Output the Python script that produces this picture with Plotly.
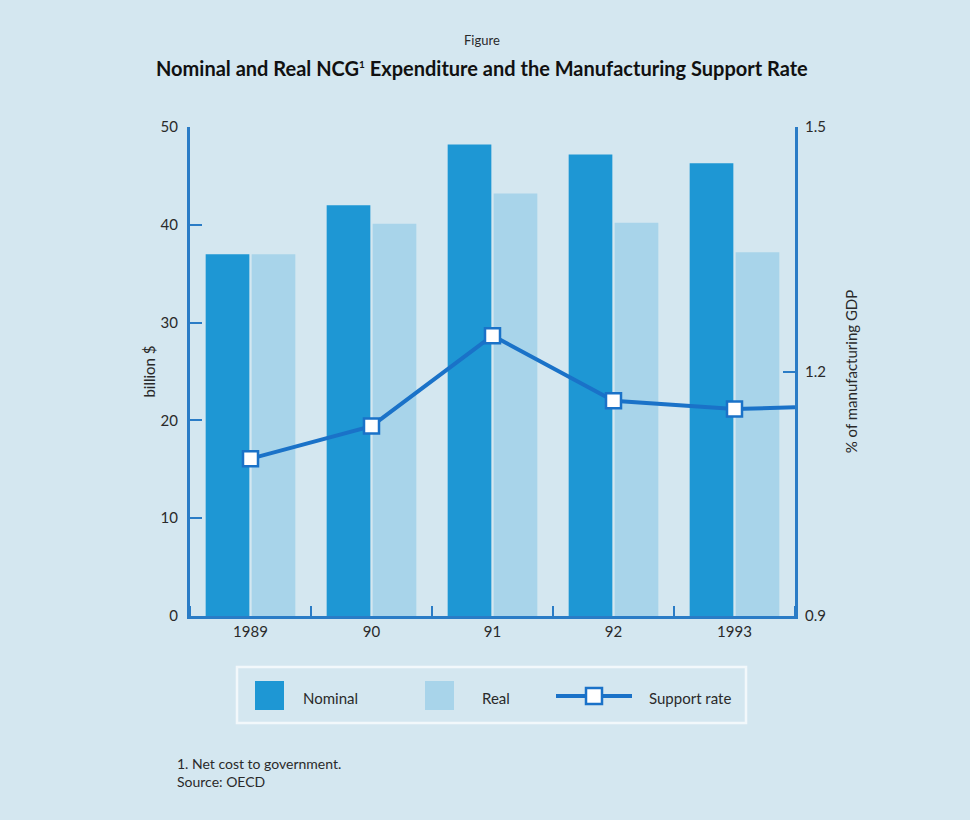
import plotly.graph_objects as go

years = ["1989", "90", "91", "92", "1993"]
nominal = [37, 42, 48.2, 47.2, 46.3]
real = [37, 40.1, 43.2, 40.2, 37.2]
support_rate = [1.093, 1.133, 1.244, 1.164, 1.154]
support_rate_end = 1.156  # line continues to right axis

left_ticks = [0, 10, 20, 30, 40, 50]
right_ticks = [0.9, 1.2, 1.5]

BG = "#d4e7f0"
NOM = "#1e97d4"
REAL = "#a8d4ea"
LINE = "#1a72c8"
AX = "#2a7cc6"
TXT = "#2a2a2a"
FONT = "Lato"

W, H = 970, 820
L, R, T, B = 190, 795, 127, 616

x_idx = list(range(len(years)))

fig = go.Figure()
fig.add_trace(go.Bar(x=x_idx, y=nominal, name="Nominal", marker=dict(color=NOM, line_width=0)))
fig.add_trace(go.Bar(x=x_idx, y=real, name="Real", marker=dict(color=REAL, line_width=0)))
fig.add_trace(go.Scatter(x=[x_idx[-1], x_idx[-1] + 0.5], y=[support_rate[-1], support_rate_end],
                         yaxis="y2", mode="lines", line=dict(color=LINE, width=4), showlegend=False))
fig.add_trace(go.Scatter(x=x_idx, y=support_rate, yaxis="y2", mode="lines+markers", name="Support rate",
                         line=dict(color=LINE, width=4),
                         marker=dict(symbol="square", size=15, color="white", line=dict(color=LINE, width=2.5))))

fig.update_layout(
    width=W, height=H,
    margin=dict(l=L, r=W - R, t=T, b=H - B),
    paper_bgcolor=BG, plot_bgcolor=BG,
    showlegend=False,
    barmode="group", bargap=0.24, bargroupgap=0.05,
    font=dict(family=FONT, color=TXT, size=15),
    xaxis=dict(range=[-0.5, 4.5], tickvals=x_idx, ticktext=years, ticks="", showgrid=False,
               showline=True, linecolor=AX, linewidth=3, zeroline=False, tickfont=dict(size=15),
               minor=dict(ticks="inside", tick0=0.5, dtick=1, ticklen=10, tickcolor=AX, tickwidth=1.5,
                          showgrid=False)),
    yaxis=dict(range=[0, 50], tickvals=left_ticks, ticks="inside", ticklen=12, tickcolor=AX, tickwidth=1.5,
               showgrid=False, showline=True, linecolor=AX, linewidth=3, zeroline=False,
               ticklabelstandoff=6,
               title=dict(text="billion $", font=dict(size=15), standoff=2), tickfont=dict(size=15)),
    yaxis2=dict(range=[0.9, 1.5], tickvals=right_ticks, tickformat=".1f", overlaying="y", side="right",
                ticks="inside", ticklen=12, tickcolor=AX, tickwidth=1.5, showgrid=False, showline=True,
                linecolor=AX, linewidth=3, zeroline=False, ticklabelstandoff=4,
                title=dict(text="% of manufacturing GDP", font=dict(size=15), standoff=22),
                tickfont=dict(size=15)),
)

def px_x(p):
    return (p - L) / (R - L)

def px_y(p):
    return (B - p) / (B - T)

shapes = []
ann = []
# titles
ann.append(dict(text="Figure", x=px_x(482), y=px_y(40), xref="paper", yref="paper", showarrow=False,
                yanchor="middle", font=dict(size=13, color=TXT)))
ann.append(dict(text="Nominal and Real NCG<sup><span style='font-size:10px'>1</span></sup> Expenditure and the Manufacturing Support Rate",
                x=px_x(482), y=px_y(68), xref="paper", yref="paper", showarrow=False, yanchor="middle",
                font=dict(size=20, color="#111", family=FONT, weight="bold")))
# legend box
shapes.append(dict(type="rect", xref="paper", yref="paper", x0=px_x(237), x1=px_x(746), y0=px_y(667), y1=px_y(723),
                   line=dict(color="#f2f8fb", width=2.5), fillcolor="rgba(0,0,0,0)"))
shapes.append(dict(type="rect", xref="paper", yref="paper", x0=px_x(255), x1=px_x(284), y0=px_y(681), y1=px_y(710),
                   line=dict(width=0), fillcolor=NOM))
shapes.append(dict(type="rect", xref="paper", yref="paper", x0=px_x(425), x1=px_x(454), y0=px_y(681), y1=px_y(710),
                   line=dict(width=0), fillcolor=REAL))
shapes.append(dict(type="line", xref="paper", yref="paper", x0=px_x(556), x1=px_x(632), y0=px_y(696), y1=px_y(696),
                   line=dict(color=LINE, width=4)))
shapes.append(dict(type="rect", xref="paper", yref="paper", x0=px_x(586), x1=px_x(602), y0=px_y(688), y1=px_y(704),
                   line=dict(color=LINE, width=2.5), fillcolor="white"))
for label, px in [("Nominal", 301), ("Real", 480), ("Support rate", 647)]:
    ann.append(dict(text=label, x=px_x(px), y=px_y(698), xref="paper", yref="paper", showarrow=False,
                    xanchor="left", yanchor="middle", font=dict(size=15, color=TXT)))
ann.append(dict(text="1. Net cost to government.<br>Source: OECD", x=px_x(175), y=px_y(753), xref="paper",
                yref="paper", showarrow=False, xanchor="left", yanchor="top", align="left",
                font=dict(size=14, color=TXT)))
fig.update_layout(shapes=shapes, annotations=ann)

fig.write_html("out.html")
